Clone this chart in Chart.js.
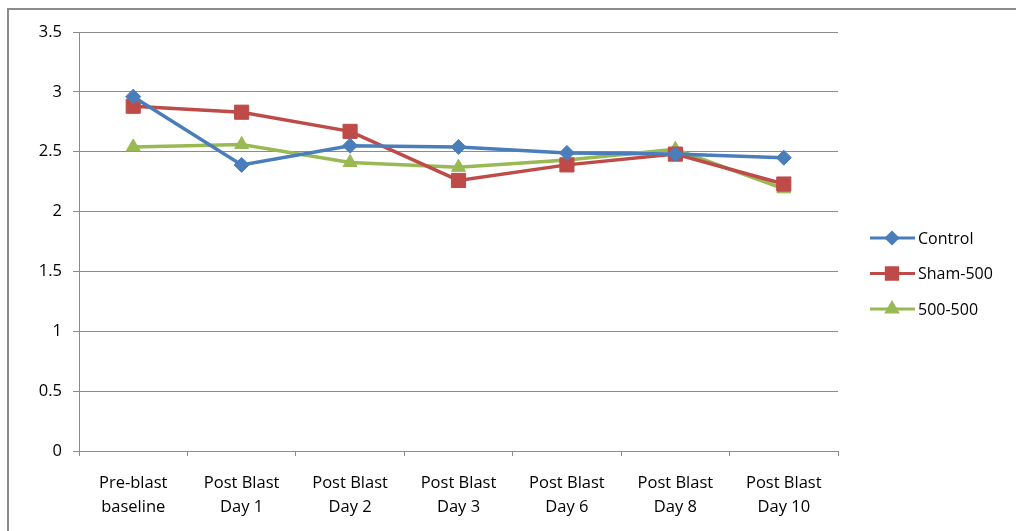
<!DOCTYPE html>
<html>
<head>
<meta charset="utf-8">
<script src="https://cdn.jsdelivr.net/npm/chart.js@4"></script>
<style>
  body { margin: 0; background: #fff; }
  #wrap { position: relative; width: 1016px; height: 531px; }
  #frame { position: absolute; left: 7px; top: 8px; right: -10px; bottom: -10px; border: 2px solid #8c8c8c; }
  canvas { position: absolute; left: 0; top: 0; }
</style>
</head>
<body>
<div id="wrap">
  <div id="frame"></div>
  <canvas id="myChart" width="1016" height="531"></canvas>
</div>
<script>
let labels = [
  ["Pre-blast", "baseline"],
  ["Post Blast", "Day 1"],
  ["Post Blast", "Day 2"],
  ["Post Blast", "Day 3"],
  ["Post Blast", "Day 6"],
  ["Post Blast", "Day 8"],
  ["Post Blast", "Day 10"]
]
let control = [2.96, 2.39, 2.55, 2.54, 2.49, 2.48, 2.45]
let sham500 = [2.88, 2.83, 2.67, 2.26, 2.39, 2.48, 2.23]
let g500500 = [2.54, 2.56, 2.41, 2.37, 2.43, 2.52, 2.19]
let seriesNames = ["Control", "Sham-500", "500-500"]

let font = "'Open Sans', sans-serif"

// legend with a line + marker like the original
const sideLegend = {
  id: "sideLegend",
  afterDraw(chart) {
    const ctx = chart.ctx
    const x0 = chart.chartArea.right + 32
    chart.data.datasets.forEach((ds, i) => {
      const y = 238 + i * 35.5
      ctx.save()
      ctx.strokeStyle = ds.borderColor
      ctx.lineWidth = 3
      ctx.beginPath()
      ctx.moveTo(x0, y)
      ctx.lineTo(x0 + 45, y)
      ctx.stroke()
      ctx.fillStyle = ds.backgroundColor
      ctx.strokeStyle = ds.borderColor
      Chart.helpers.drawPoint(ctx, {
        pointStyle: ds.pointStyle,
        radius: ds.pointRadius - 2,
        borderWidth: 1
      }, x0 + 22, y)
      ctx.fillStyle = "#000"
      ctx.font = "16px " + font
      ctx.textBaseline = "middle"
      ctx.fillText(ds.label, x0 + 48, y + 1)
      ctx.restore()
    })
  }
}

const data = {
  labels: labels,
  datasets: [
    {
      label: seriesNames[0],
      data: control,
      borderColor: "#4a7ebb",
      backgroundColor: "#4a7ebb",
      borderWidth: 3.5,
      pointStyle: "rectRot",
      pointRadius: 7.5,
      pointBorderWidth: 1
    },
    {
      label: seriesNames[1],
      data: sham500,
      borderColor: "#be4b48",
      backgroundColor: "#be4b48",
      borderWidth: 3.5,
      pointStyle: "rect",
      pointRadius: 10,
      pointBorderWidth: 1
    },
    {
      label: seriesNames[2],
      data: g500500,
      borderColor: "#98b954",
      backgroundColor: "#98b954",
      borderWidth: 3.5,
      pointStyle: "triangle",
      pointRadius: 8,
      pointBorderWidth: 1
    }
  ]
}

const config = {
  type: "line",
  data: data,
  plugins: [sideLegend],
  options: {
    responsive: false,
    animation: false,
    layout: { padding: { top: 32, right: 178, left: 0, bottom: 0 } },
    plugins: {
      legend: { display: false },
      tooltip: { enabled: false }
    },
    scales: {
      x: {
        offset: true,
        grid: { offset: true, drawOnChartArea: false, tickLength: 5, color: "#8c8c8c" },
        border: { color: "#8c8c8c" },
        ticks: { color: "#000", padding: 15, font: { family: font, size: 16.5, lineHeight: 1.45 }, maxRotation: 0 },
        afterFit(scale) { scale.height = 80 }
      },
      y: {
        min: 0,
        max: 3.5,
        grid: { color: "#8c8c8c", tickLength: 6 },
        border: { color: "#8c8c8c" },
        ticks: {
          stepSize: 0.5,
          color: "#000",
          padding: 11,
          font: { family: font, size: 16.5 },
          callback: v => String(v)
        },
        afterFit(scale) { scale.width = 79 }
      }
    }
  }
}

new Chart(document.getElementById("myChart"), config)
</script>
</body>
</html>
